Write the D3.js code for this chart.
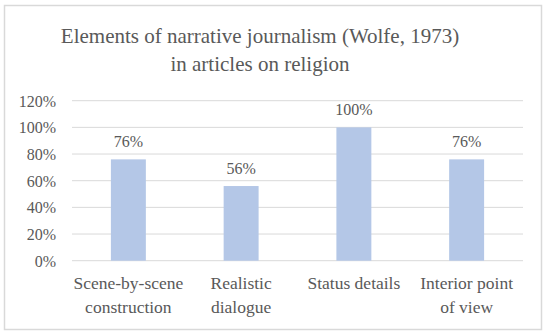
<!DOCTYPE html>
<html><head><meta charset="utf-8">
<script src="https://cdn.jsdelivr.net/npm/d3@7"></script>
<style>body{margin:0;background:#fff}svg{display:block}svg text{font-family:"Liberation Serif","Times New Roman",serif !important}</style>
</head><body>
<svg id="c" width="550" height="335"></svg>
<script>
const categories = [["Scene-by-scene","construction"],["Realistic","dialogue"],["Status details"],["Interior point","of view"]];
const values = [0.76, 0.56, 1.00, 0.76];
const tickValues = [0, 0.2, 0.4, 0.6, 0.8, 1.0, 1.2];
const titleLines = ["Elements of narrative journalism (Wolfe, 1973)", "in articles on religion"];

const svg = d3.select("#c");
const txt = "#595959";
svg.append("rect").attr("x",0).attr("y",0).attr("width",550).attr("height",335).attr("fill","#fff");
svg.append("rect").attr("x",4.5).attr("y",5.5).attr("width",537).attr("height",324)
  .attr("fill","#fff").attr("stroke","#d9d9d9").attr("stroke-width",1.5);

const m = {l:72, r:523, t:100.7, b:260.7};
const x = d3.scaleBand().domain(d3.range(categories.length)).range([m.l, m.r]).padding(0);
const y = d3.scaleLinear().domain([0,1.2]).range([m.b, m.t]);

svg.append("g").selectAll("text").data(titleLines).join("text")
  .attr("x",260).attr("y",(d,i)=>43+i*28).attr("text-anchor","middle")
  .style("font-size","21px").attr("fill",txt).text(d=>d);

const yAxis = d3.axisLeft(y).tickValues(tickValues).tickFormat(d3.format(".0%")).tickSize(0).tickPadding(16);
const gy = svg.append("g").attr("transform",`translate(${m.l},0)`).call(yAxis);
gy.select(".domain").remove();
gy.attr("font-family",null).attr("font-size",null);
gy.selectAll("text").style("font-size","16px").attr("fill",txt).attr("dy","0.35em");

svg.append("g").selectAll("line").data(tickValues).join("line")
  .attr("x1",m.l).attr("x2",m.r).attr("y1",d=>y(d)).attr("y2",d=>y(d))
  .attr("stroke","#d9d9d9").attr("stroke-width",1);

const bw = x.bandwidth()*0.31;
svg.append("g").selectAll("rect").data(values).join("rect")
  .attr("x",(d,i)=>x(i)+x.bandwidth()/2-bw/2).attr("width",bw)
  .attr("y",d=>y(d)).attr("height",d=>y(0)-y(d)).attr("fill","#b4c7e7");

svg.append("g").selectAll("text").data(values).join("text")
  .attr("x",(d,i)=>x(i)+x.bandwidth()/2).attr("y",d=>y(d)-12)
  .attr("text-anchor","middle").style("font-size","16px").attr("fill",txt)
  .text(d=>d3.format(".0%")(d));

const xl = svg.append("g").selectAll("text").data(categories).join("text")
  .attr("x",(d,i)=>x(i)+x.bandwidth()/2).attr("y",289)
  .attr("text-anchor","middle").style("font-size","17.5px").attr("fill",txt);
xl.selectAll("tspan").data(d=>d).join("tspan")
  .attr("x",function(){return this.parentNode.getAttribute("x");})
  .attr("dy",(d,i)=>i?24:0).text(d=>d);
</script>
</body></html>
